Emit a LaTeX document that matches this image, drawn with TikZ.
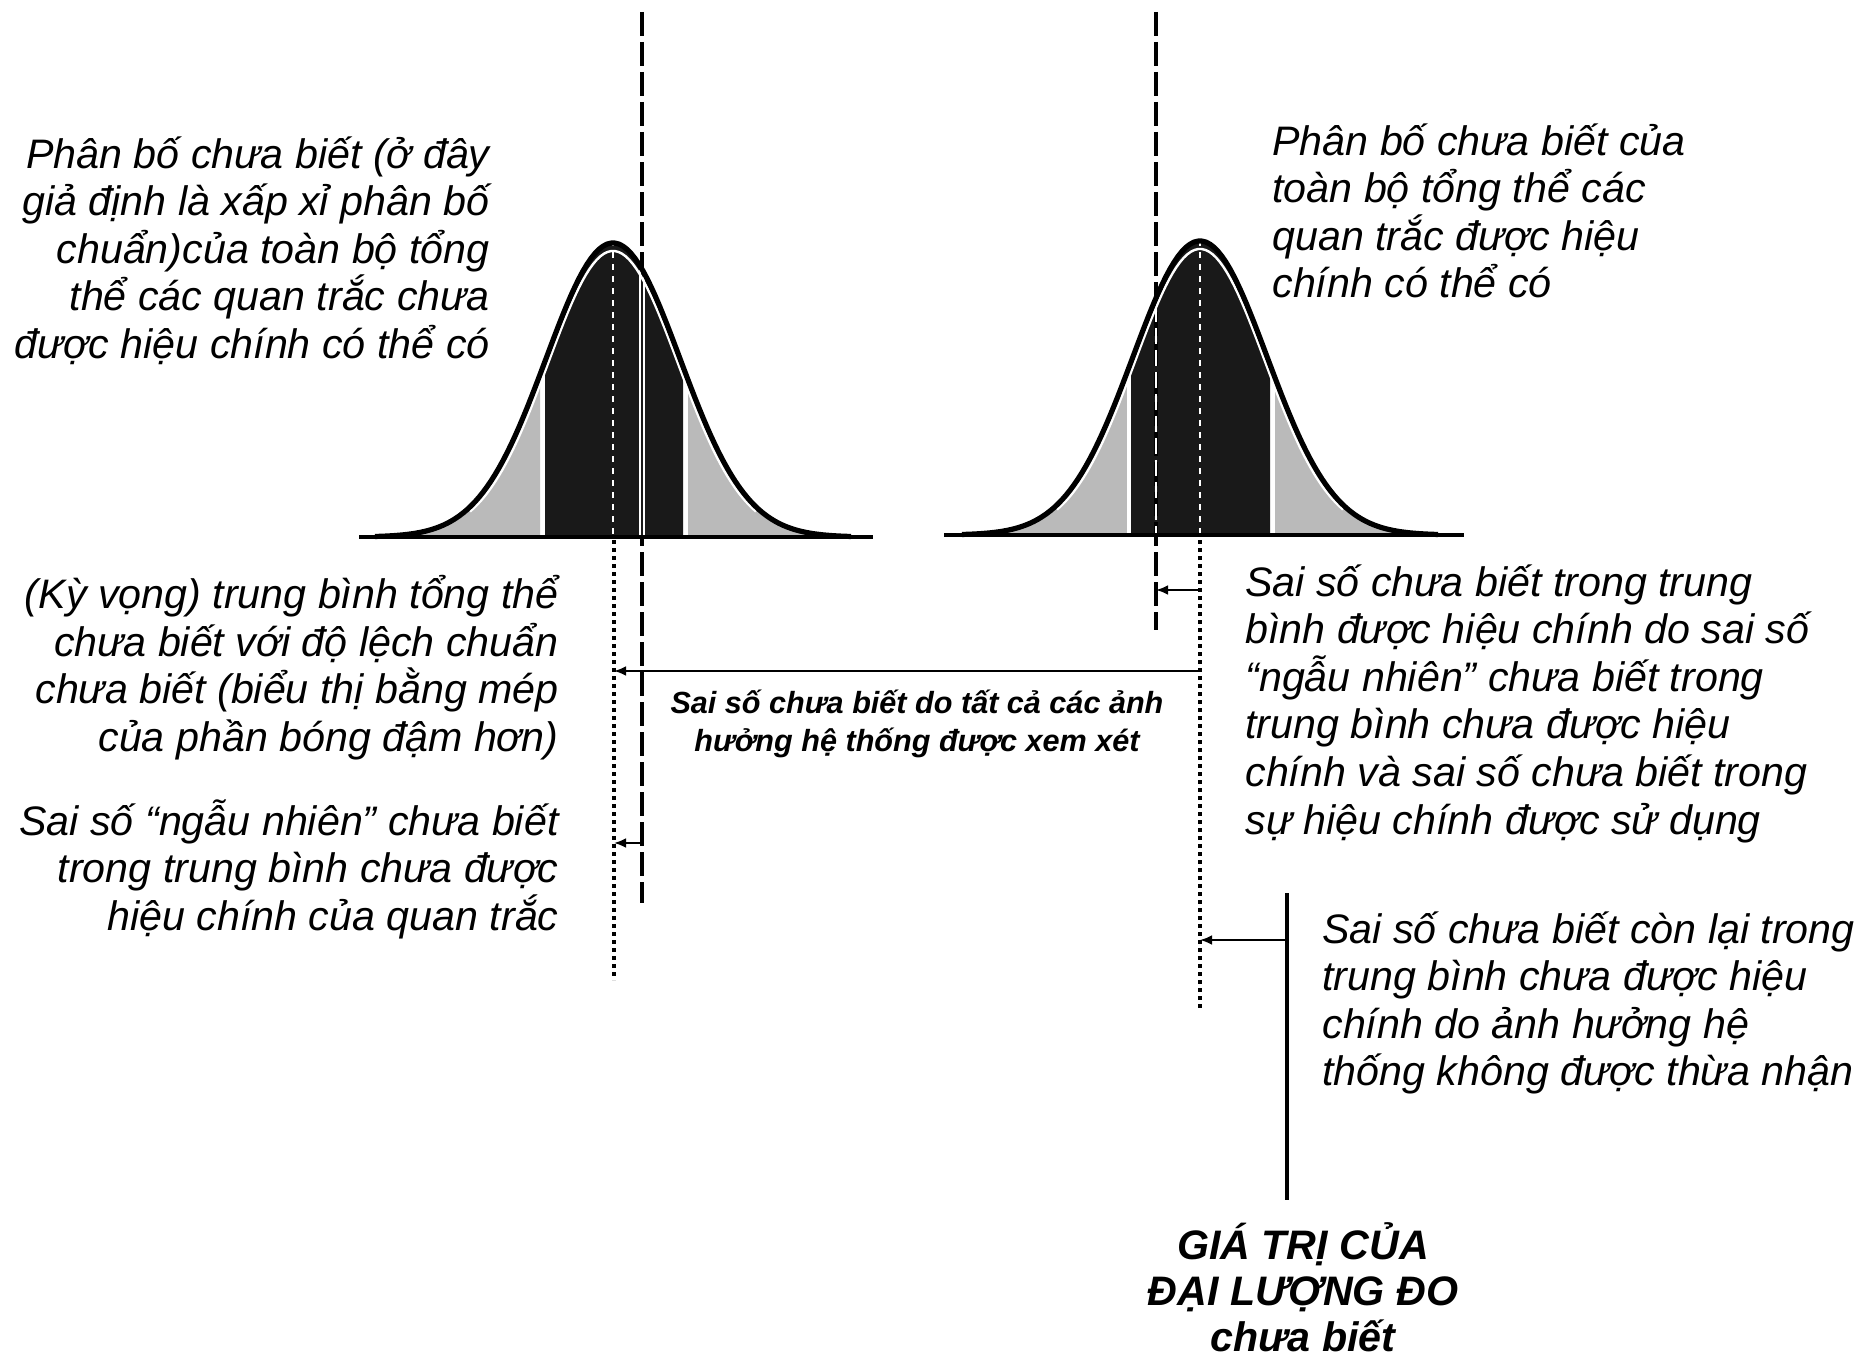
\documentclass[tikz,border=0pt]{standalone}
\usepackage{fontspec}
\setmainfont{Liberation Sans}
\usetikzlibrary{arrows.meta}
\begin{document}
\begin{tikzpicture}[x=0.5pt,y=-0.5pt,
  declare function={gL(\t)=537-294*exp(-0.5*((\t-613)/67)*((\t-613)/67));
                    gR(\t)=535-294*exp(-0.5*((\t-1200)/67)*((\t-1200)/67));
                    wL(\t)=537-286*exp(-0.5*((\t-613)/65)*((\t-613)/65));
                    wR(\t)=535-286*exp(-0.5*((\t-1200)/65)*((\t-1200)/65));},
  lightfill/.style={fill=black!27},
  darkfill/.style={fill=black!90},
  curveln/.style={line width=2.6pt,line join=round},
  baseln/.style={line width=2.4pt},
  dashln/.style={line width=1.8pt,dash pattern=on 12pt off 3pt},
  dotln/.style={line width=2pt,dash pattern=on 1.8pt off 2.2pt},
  solidln/.style={line width=1.6pt},
  arr/.style={line width=1.4pt,-{Latex[length=6pt,width=5pt]}},
  txt/.style={font=\fontsize{20.6}{23.8}\selectfont\itshape,inner sep=0pt},
  ltxt/.style={txt,align=left,anchor=north west},
  rtxt/.style={txt,align=right,anchor=north east},
  smalltxt/.style={font=\fontsize{15.3}{19}\selectfont\bfseries\itshape,inner sep=0pt,align=center,anchor=north},
  boldtxt/.style={font=\fontsize{20.6}{23}\selectfont\bfseries\itshape,inner sep=0pt,align=center,anchor=north}
]
\useasboundingbox (0,0) rectangle (1863,1359);

% ---------- left distribution ----------
\fill[lightfill] (375,537) -- plot[domain=375:540,samples=60] (\x,{gL(\x)}) -- (540,537) -- cycle;
\fill[lightfill] (688,537) -- plot[domain=688:851,samples=60] (\x,{gL(\x)}) -- (851,537) -- cycle;
\fill[darkfill] (545,537) -- plot[domain=545:683,samples=60] (\x,{gL(\x)}) -- (683,537) -- cycle;

% ---------- right distribution ----------
\fill[lightfill] (962,535) -- plot[domain=962:1127,samples=60] (\x,{gR(\x)}) -- (1127,535) -- cycle;
\fill[lightfill] (1275,535) -- plot[domain=1275:1438,samples=60] (\x,{gR(\x)}) -- (1438,535) -- cycle;
\fill[darkfill] (1131,535) -- plot[domain=1131:1270,samples=60] (\x,{gR(\x)}) -- (1270,535) -- cycle;

% ---------- reference lines ----------
\coordinate (dLt) at (642,12);   \coordinate (dLb) at (642,903);
\coordinate (oLt) at (614,540);  \coordinate (oLb) at (614,980);
\coordinate (dRt) at (1156,12);  \coordinate (dRb) at (1156,630);
\coordinate (oRt) at (1200,540); \coordinate (oRb) at (1200,1010);
\coordinate (sTt) at (1287,893); \coordinate (sTb) at (1287,1200);

\draw[dashln] (dLt) -- (dLb);
\draw[dotln] (oLt) -- (oLb);
\draw[dashln] (dRt) -- (dRb);
\draw[dotln] (oRt) -- (oRb);
\draw[solidln] (sTt) -- (sTb);

% white marks inside the dark bands
\begin{scope}
  \clip (545,537) -- plot[domain=545:683,samples=60] (\x,{gL(\x)}) -- (683,537) -- cycle;
  \draw[white,line width=0.8pt,dash pattern=on 3pt off 3pt] (613,240) -- (613,537);
  \draw[white,line width=2.8pt] (642,240) -- (642,537);
  \draw[black!90,line width=1.4pt] (642,240) -- (642,537);
\end{scope}
\begin{scope}
  \clip (1131,535) -- plot[domain=1131:1270,samples=60] (\x,{gR(\x)}) -- (1270,535) -- cycle;
  \draw[white,line width=0.8pt,dash pattern=on 3pt off 3pt] (1200,240) -- (1200,535);
  \draw[white,line width=0.8pt,dash pattern=on 8pt off 3pt] (1156,240) -- (1156,535);
\end{scope}
% white gaps at band edges
\draw[white,line width=1.6pt] (542.5,537) -- (542.5,{gL(542.5)});
\draw[white,line width=1.6pt] (685.5,537) -- (685.5,{gL(685.5)});
\draw[white,line width=1.6pt] (1129,535) -- (1129,{gR(1129)});
\draw[white,line width=1.6pt] (1272.5,535) -- (1272.5,{gR(1272.5)});

% inner white outline and black curve
\draw[white,line width=1.2pt] plot[domain=470:756,samples=80] (\x,{wL(\x)});
\draw[white,line width=1.2pt] plot[domain=1057:1343,samples=80] (\x,{wR(\x)});
\draw[curveln] plot[domain=375:851,samples=120] (\x,{gL(\x)});
\draw[curveln] plot[domain=962:1438,samples=120] (\x,{gR(\x)});
\draw[baseln] (359,537) -- (873,537);
\draw[baseln] (944,535) -- (1464,535);

% ---------- arrows ----------
\coordinate (a1s) at (1200,671); \coordinate (a1e) at (614,671);
\coordinate (a2s) at (1200,590); \coordinate (a2e) at (1156,590);
\coordinate (a3s) at (642,843);  \coordinate (a3e) at (614,843);
\coordinate (a4s) at (1287,940); \coordinate (a4e) at (1200,940);
\draw[arr] (a1s) -- (a1e);
\draw[arr] (a2s) -- (a2e);
\draw[arr] (a3s) -- (a3e);
\draw[arr] (a4s) -- (a4e);

% ---------- texts ----------
\node[rtxt] (tl) at (490,136) {Phân bố chưa biết (ở đây\\giả định là xấp xỉ phân bố\\chuẩn)của toàn bộ tổng\\thể các quan trắc chưa\\được hiệu chính có thể có};
\node[ltxt] (tr) at (1272,123) {Phân bố chưa biết của\\toàn bộ tổng thể các\\quan trắc được hiệu\\chính có thể có};
\node[rtxt] (ml1) at (559,575) {(Kỳ vọng) trung bình tổng thể\\chưa biết với độ lệch chuẩn\\chưa biết (biểu thị bằng mép\\của phần bóng đậm hơn)};
\node[rtxt] (ml2) at (559,799) {Sai số “ngẫu nhiên” chưa biết\\trong trung bình chưa được\\hiệu chính của quan trắc};
\node[smalltxt] (ct) at (917,690) {Sai số chưa biết do tất cả các ảnh\\hưởng hệ thống được xem xét};
\node[ltxt] (r1) at (1245,564) {Sai số chưa biết trong trung\\bình được hiệu chính do sai số\\“ngẫu nhiên” chưa biết trong\\trung bình chưa được hiệu\\chính và sai số chưa biết trong\\sự hiệu chính được sử dụng};
\node[ltxt] (r2) at (1322,911) {Sai số chưa biết còn lại trong\\trung bình chưa được hiệu\\chính do ảnh hưởng hệ\\thống không được thừa nhận};
\node[boldtxt] (bt) at (1303,1222) {GIÁ TRỊ CỦA\\ĐẠI LƯỢNG ĐO\\chưa biết};
\end{tikzpicture}
\end{document}
